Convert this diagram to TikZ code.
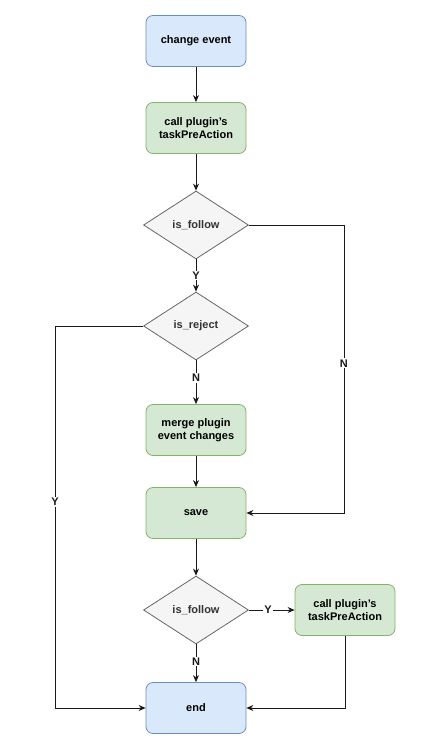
\documentclass[tikz,border=0pt]{standalone}
\usepackage{fontspec}
\setmainfont{Liberation Sans}
\usetikzlibrary{arrows.meta,shapes.geometric}
\definecolor{bluefill}{HTML}{DAE8FC}
\definecolor{blueline}{HTML}{6C8EBF}
\definecolor{greenfill}{HTML}{D5E8D4}
\definecolor{greenline}{HTML}{82B366}
\definecolor{grayfill}{HTML}{F5F5F5}
\definecolor{grayline}{HTML}{666666}
\definecolor{edgecol}{HTML}{1A1A1A}
\newcommand{\apos}{\char"0027\relax}

\tikzset{
  box/.style={rectangle,rounded corners=7pt,minimum width=100pt,minimum height=51pt,
    align=center,inner sep=2pt,line width=0.8pt},
  bluebox/.style={box,draw=blueline,fill=bluefill},
  greenbox/.style={box,draw=greenline,fill=greenfill},
  decision/.style={diamond,draw=grayline,fill=grayfill,minimum width=105pt,
    minimum height=68pt,inner sep=0pt,aspect=1.55,text=black!80,line width=0.8pt},
  lbl/.style={fill=white,inner sep=1pt,font=\bfseries\fontsize{11}{13}\selectfont},
}

\begin{document}
\begin{tikzpicture}[x=1pt,y=-1pt,>={Stealth[length=7pt,width=6pt]},
  font=\bfseries\fontsize{11}{13}\selectfont,line width=0.8pt]
\useasboundingbox (0,0) rectangle (431,754);
\node[bluebox] (start) at (196,41) {change event};
\node[greenbox] (preaction) at (196,128) {call plugin\apos s\\taskPreAction};
\node[decision] (follow) at (196,225) {is\_follow};
\node[decision] (reject) at (196,326) {is\_reject};
\node[greenbox] (merge) at (196,430) {merge plugin\\event changes};
\node[greenbox] (save) at (196,513) {save};
\node[decision] (followtwo) at (196,610) {is\_follow};
\node[greenbox] (postaction) at (345,610) {call plugin\apos s\\taskPreAction};
\node[bluebox] (finish) at (196,708) {end};

\draw[->,edgecol] (start) -- (preaction);
\draw[->,edgecol] (preaction) -- (follow);
\draw[->,edgecol] (follow) -- node[lbl]{Y} (reject);
\draw[->,edgecol] (follow.east) -- ++(95,0) |- node[lbl,pos=0.24]{N} (save.east);
\draw[->,edgecol] (reject) -- node[lbl,pos=0.4]{N} (merge);
\draw[->,edgecol] (reject.west) -- ++(-88,0) |- node[lbl,pos=0.23]{Y} (finish.west);
\draw[->,edgecol] (merge) -- (save);
\draw[->,edgecol] (save) -- (followtwo);
\draw[->,edgecol] (followtwo) -- node[lbl,pos=0.42]{Y} (postaction);
\draw[->,edgecol] (followtwo) -- node[lbl,pos=0.45]{N} (finish);
\draw[->,edgecol] (postaction.south) |- (finish.east);
\end{tikzpicture}
\end{document}
